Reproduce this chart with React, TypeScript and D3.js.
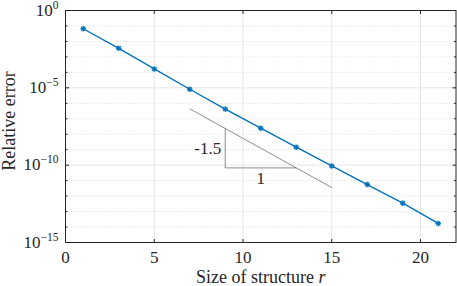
import React from 'react';
import * as d3 from 'd3';

// structure size r and relative error
const sizes = [1, 3, 5, 7, 9, 11, 13, 15, 17, 19, 21];
const errors = [6.6e-2, 3.6e-3, 1.66e-4, 8.1e-6, 4.2e-7, 2.45e-8, 1.45e-9, 8.9e-11, 5.6e-12, 3.5e-13, 1.7e-14];
const xTicks = [0, 5, 10, 15, 20];
const yTickExps = [0, -5, -10, -15];
const minorExps = d3.range(-15, 1);
// slope triangle reference line
const refX = [7, 15];
const refY = [4.4e-7, 3.55e-12];
const triX = [9, 13];
const slopeLabel = '-1.5';
const runLabel = '1';

const W = 457;
const H = 286;
const margin = { top: 10.5, right: 1, bottom: 43.5, left: 65.5 };
const blue = '#0072BD';
const ink = '#262626';

const App: React.FC = () => {
  const x = d3.scaleLinear().domain([0, 22]).range([margin.left, W - margin.right]);
  const y = d3.scaleLog().domain([1e-15, 1]).range([H - margin.bottom, margin.top]);
  const x0 = margin.left;
  const x1 = W - margin.right;
  const y0 = H - margin.bottom;
  const y1 = margin.top;

  const line = d3
    .line<number>()
    .x((_, i) => x(sizes[i]))
    .y((d) => y(d));

  // reference line value at given x (log-linear)
  const refAt = (xv: number) => {
    const t = (xv - refX[0]) / (refX[1] - refX[0]);
    return Math.pow(10, Math.log10(refY[0]) + t * (Math.log10(refY[1]) - Math.log10(refY[0])));
  };
  const tA = refAt(triX[0]);
  const tB = refAt(triX[1]);

  return (
    <svg width={W} height={H} style={{ position: 'absolute', left: 0, top: 0, background: '#fff', fontFamily: 'Liberation Serif' }}>
      {/* minor grid */}
      {minorExps
        .filter((e) => !yTickExps.includes(e))
        .map((e) => (
          <line key={'mg' + e} x1={x0} x2={x1} y1={y(Math.pow(10, e))} y2={y(Math.pow(10, e))}
            stroke="#d9d9d9" strokeWidth={1} strokeDasharray="1,2" />
        ))}
      {/* major grid */}
      {yTickExps.map((e) => (
        <line key={'yg' + e} x1={x0} x2={x1} y1={y(Math.pow(10, e))} y2={y(Math.pow(10, e))}
          stroke="#e6e6e6" strokeWidth={1} />
      ))}
      {xTicks.map((t) => (
        <line key={'xg' + t} x1={x(t)} x2={x(t)} y1={y0} y2={y1} stroke="#e6e6e6" strokeWidth={1} />
      ))}

      {/* slope triangle */}
      <line x1={x(refX[0])} y1={y(refY[0])} x2={x(refX[1])} y2={y(refY[1])} stroke="#404040" strokeWidth={0.6} />
      <polyline
        points={`${x(triX[0])},${y(tA)} ${x(triX[0])},${y(tB)} ${x(triX[1])},${y(tB)}`}
        fill="none" stroke="#404040" strokeWidth={0.6} />
      <text x={x(triX[0]) - 4} y={(y(tA) + y(tB)) / 2 + 6} textAnchor="end" fontSize={17} fill={ink}>{slopeLabel}</text>
      <text x={(x(triX[0]) + x(triX[1])) / 2} y={y(tB) + 16} textAnchor="middle" fontSize={17} fill={ink}>{runLabel}</text>

      {/* data */}
      <path d={line(errors) || ''} fill="none" stroke={blue} strokeWidth={1.4} />
      {errors.map((d, i) => {
        const cx = x(sizes[i]);
        const cy = y(d);
        const r = 2.8;
        const rr = r * 0.72;
        return (
          <g key={'m' + i} stroke={blue} strokeWidth={1.3}>
            <line x1={cx - r} x2={cx + r} y1={cy} y2={cy} />
            <line x1={cx} x2={cx} y1={cy - r} y2={cy + r} />
            <line x1={cx - rr} x2={cx + rr} y1={cy - rr} y2={cy + rr} />
            <line x1={cx - rr} x2={cx + rr} y1={cy + rr} y2={cy - rr} />
          </g>
        );
      })}

      {/* box */}
      <rect x={x0} y={y1} width={x1 - x0} height={y0 - y1} fill="none" stroke={ink} strokeWidth={1} />

      {/* ticks */}
      {xTicks.map((t) => (
        <g key={'xt' + t}>
          <line x1={x(t)} x2={x(t)} y1={y0} y2={y0 - 3.5} stroke={ink} />
          <line x1={x(t)} x2={x(t)} y1={y1} y2={y1 + 3.5} stroke={ink} />
          <text x={x(t)} y={y0 + 20} textAnchor="middle" fontSize={17} fill={ink}>{t}</text>
        </g>
      ))}
      {minorExps.map((e) => {
        const len = yTickExps.includes(e) ? 3.5 : 2;
        const yy = y(Math.pow(10, e));
        return (
          <g key={'yt' + e}>
            <line x1={x0} x2={x0 + len} y1={yy} y2={yy} stroke={ink} />
            <line x1={x1} x2={x1 - len} y1={yy} y2={yy} stroke={ink} />
          </g>
        );
      })}
      {yTickExps.map((e) => {
        const yy = y(Math.pow(10, e));
        return (
          <text key={'yl' + e} x={x0 - 7} y={yy + 5} textAnchor="end" fontSize={17} fill={ink}>
            10<tspan dy={-7} fontSize={11.5}>{e === 0 ? '0' : '\u2212' + Math.abs(e)}</tspan>
          </text>
        );
      })}

      {/* axis labels */}
      <text x={(x0 + x1) / 2} y={H - 3} textAnchor="middle" fontSize={18} fill={ink}>
        Size of structure <tspan fontStyle="italic">r</tspan>
      </text>
      <text transform="translate(15,121) rotate(-90)" textAnchor="middle" fontSize={18} fill={ink}>Relative error</text>
    </svg>
  );
};

export default App;
